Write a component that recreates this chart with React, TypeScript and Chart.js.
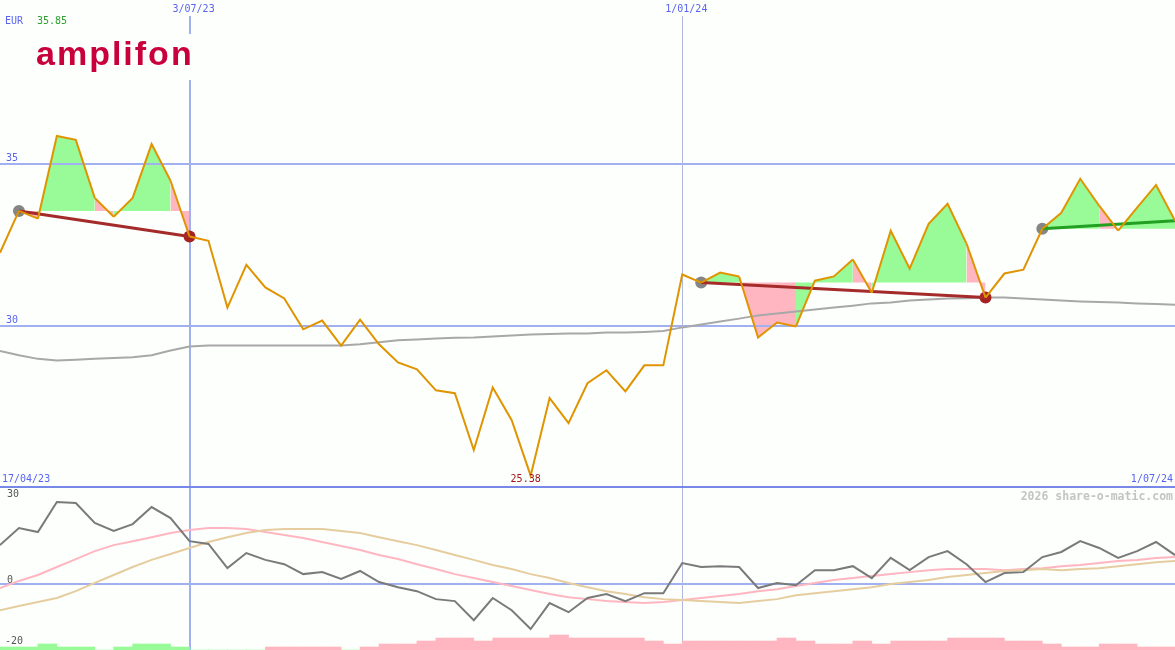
import React, { useEffect, useRef } from "react";
import { Chart, registerables } from "chart.js";

Chart.register(...registerables);

// ---------- data ----------
const price = [
  32.25, 33.54, 33.3, 35.85, 35.73, 33.94, 33.36, 33.94, 35.6, 34.47,
  32.75, 32.62, 30.56, 31.88, 31.18, 30.84, 29.89, 30.16, 29.39, 30.19,
  29.43, 28.87, 28.66, 28.01, 27.92, 26.17, 28.1, 27.09, 25.38, 27.77,
  27.0, 28.23, 28.63, 27.98, 28.78, 28.78, 31.58, 31.33, 31.64, 31.52,
  29.64, 30.1, 29.98, 31.39, 31.52, 32.04, 31.02, 32.93, 31.76, 33.14,
  33.76, 32.53, 30.87, 31.61, 31.73, 32.99, 33.48, 34.53, 33.7, 32.93,
  33.64, 34.34, 33.24,
];
const movingAvg = [
  29.22, 29.09, 28.98, 28.93, 28.95, 28.98, 29.01, 29.03, 29.09, 29.24,
  29.36, 29.39, 29.39, 29.39, 29.39, 29.39, 29.39, 29.39, 29.39, 29.43,
  29.49, 29.55, 29.58, 29.61, 29.63, 29.64, 29.67, 29.7, 29.73, 29.75,
  29.76, 29.76, 29.79, 29.79, 29.81, 29.84, 29.95, 30.04, 30.13, 30.22,
  30.32, 30.38, 30.44, 30.5, 30.56, 30.62, 30.69, 30.72, 30.78, 30.81,
  30.84, 30.85, 30.87, 30.87, 30.84, 30.81, 30.78, 30.75, 30.73, 30.72,
  30.69, 30.67, 30.65,
];
const oscMain = [
  13.7, 19.7, 18.3, 28.9, 28.5, 21.5, 18.7, 21.1, 27.1, 23.2,
  15.1, 14.1, 5.6, 10.9, 8.5, 7.0, 3.5, 4.2, 1.8, 4.6,
  0.7, -1.1, -2.5, -5.3, -6.0, -12.7, -4.9, -9.2, -15.8, -6.7,
  -9.9, -4.9, -3.5, -6.0, -3.2, -3.2, 7.4, 6.0, 6.3, 6.0,
  -1.4, 0.4, -0.4, 4.9, 4.9, 6.3, 2.1, 9.2, 4.9, 9.5,
  11.6, 7.0, 0.7, 3.9, 4.2, 9.5, 11.3, 15.1, 12.7, 9.2,
  11.6, 14.8, 10.2,
];
const oscFast = [
  -1.4, 1.1, 3.2, 6.0, 8.8, 11.6, 13.7, 15.1, 16.5, 18.0,
  19.0, 19.7, 19.7, 19.4, 18.3, 17.3, 16.2, 14.8, 13.4, 12.0,
  10.2, 8.8, 7.0, 5.3, 3.5, 2.1, 0.7, -0.7, -2.1, -3.5,
  -4.6, -5.3, -6.0, -6.3, -6.7, -6.3, -5.6, -4.9, -4.2, -3.5,
  -2.5, -1.8, -0.7, 0.4, 1.4, 2.1, 2.8, 3.5, 4.2, 4.9,
  5.3, 5.3, 5.3, 4.9, 5.3, 5.6, 6.3, 6.7, 7.4, 8.1,
  8.5, 9.2, 9.5,
];
const oscSlow = [
  -9.2, -7.7, -6.3, -4.9, -2.5, 0.4, 3.2, 6.0, 8.5, 10.6,
  12.7, 14.8, 16.5, 18.0, 19.0, 19.4, 19.4, 19.4, 18.7, 18.0,
  16.5, 15.1, 13.7, 12.0, 10.2, 8.5, 6.7, 5.3, 3.5, 2.1,
  0.4, -1.1, -2.5, -3.5, -4.6, -5.3, -5.6, -6.0, -6.3, -6.7,
  -6.0, -5.3, -3.9, -3.2, -2.5, -1.8, -1.1, 0, 0.7, 1.4,
  2.5, 3.2, 3.9, 4.6, 4.9, 5.3, 4.9, 5.3, 5.6, 6.3,
  7.0, 7.7, 8.1,
];
// histogram between weeks (signed: + green, - pink)
const histLevels = [
  1, 1, 2, 1, 1, 0, 1, 2, 2, 1,
  0, 0, 0, 0, -1, -1, -1, -1, 0, -1,
  -2, -2, -3, -4, -4, -3, -4, -4, -4, -5,
  -4, -4, -4, -4, -3, -2, -3, -3, -3, -3,
  -3, -4, -3, -2, -2, -3, -2, -3, -3, -3,
  -4, -4, -4, -3, -3, -2, -1, -1, -2, -2,
  -1, -1,
];
const trendStart = [1, 37, 55];
const trendEnd = [10, 52, 62];
const trendColors = ["#a52a2a", "#a52a2a", "#22a022"];
const trendEndDot = [true, true, false];
const zoneFills = [
  ["p", "g", "g", "g", "p", "g", "g", "g", "p"],
  ["g", "g", "p", "p", "p", "g", "g", "g", "p", "g", "g", "g", "g", "g", "p"],
  ["g", "g", "g", "p", "g", "g", "g"],
];
const priceTicks = [35, 30];
const oscTicks = [30, 0, -20];
const dateMarks = [10, 36];
const dateMarkLabels = ["3/07/23", "1/01/24"];
const rangeLabels = ["17/04/23", "1/07/24"];
const currency = "EUR";
const brand = "amplifon";
const watermark = "2026 share-o-matic.com";

// ---------- styles ----------
const W = 1175;
const TOP_H = 488;
const BOT_H = 162;
const BG = "#fcfffc";
const GREEN = "#98fb98";
const PINK = "#ffb6c1";
const GRID = "#a0b0f0";
const AXIS = "#7888e8";
const LABEL = "#5a64f0";
const MONO = "'DejaVu Sans Mono', monospace";

function fillColorAt(k: number): string {
  for (let s = 0; s < trendStart.length; s++) {
    if (k >= trendStart[s] && k < trendEnd[s]) {
      return zoneFills[s][k - trendStart[s]] === "g" ? GREEN : PINK;
    }
  }
  return "rgba(0,0,0,0)";
}

const xy = (arr: number[]) => arr.map((v, i) => ({ x: i, y: v }));

const baseline = price.map((_, i) => {
  for (let s = 0; s < trendStart.length; s++) {
    if (i >= trendStart[s] && i <= trendEnd[s]) return { x: i, y: price[trendStart[s]] };
  }
  return { x: i, y: null as any };
});

const upperDecor = {
  id: "upperDecor",
  beforeDatasetsDraw(chart: any) {
    const { ctx } = chart;
    const xs = chart.scales.x;
    const ys = chart.scales.y;
    ctx.save();
    ctx.strokeStyle = GRID;
    ctx.lineWidth = 2;
    priceTicks.forEach((v) => {
      const y = Math.round(ys.getPixelForValue(v));
      ctx.beginPath();
      ctx.moveTo(0, y);
      ctx.lineTo(W, y);
      ctx.stroke();
    });
    dateMarks.forEach((idx, j) => {
      const px = xs.getPixelForValue(idx);
      ctx.lineWidth = j === 0 ? 2 : 1;
      ctx.strokeStyle = j === 0 ? GRID : "#b0b8e0";
      const x = j === 0 ? Math.round(px) : Math.floor(px) + 0.5;
      ctx.beginPath();
      ctx.moveTo(x, 16);
      ctx.lineTo(x, TOP_H);
      ctx.stroke();
    });
    ctx.restore();
  },
  afterDraw(chart: any) {
    const { ctx } = chart;
    const xs = chart.scales.x;
    const ys = chart.scales.y;
    ctx.save();
    // bottom axis line
    ctx.fillStyle = AXIS;
    ctx.fillRect(0, TOP_H - 2, W, 2);
    ctx.font = `10px ${MONO}`;
    ctx.textBaseline = "middle";
    // tick labels
    ctx.fillStyle = LABEL;
    ctx.textAlign = "left";
    priceTicks.forEach((v) => {
      ctx.fillText(String(v), 6, ys.getPixelForValue(v) - 5);
    });
    ctx.fillText(currency, 5, 21);
    ctx.fillStyle = "#2ca02c";
    ctx.fillText(Math.max(...price).toFixed(2), 37, 21);
    // date marks
    ctx.fillStyle = LABEL;
    ctx.textAlign = "left";
    dateMarks.forEach((idx, j) => {
      ctx.fillText(dateMarkLabels[j], xs.getPixelForValue(idx) - 17, 9);
    });
    ctx.textAlign = "left";
    ctx.fillText(rangeLabels[0], 2, TOP_H - 9);
    ctx.textAlign = "right";
    ctx.fillText(rangeLabels[1], W - 2, TOP_H - 9);
    // min label
    const minV = Math.min(...price);
    const minI = price.indexOf(minV);
    ctx.textAlign = "center";
    ctx.fillStyle = "#a01818";
    ctx.fillText(minV.toFixed(2), xs.getPixelForValue(minI) - 5, TOP_H - 9);
    // logo
    ctx.fillStyle = BG;
    ctx.fillRect(30, 34, 164, 46);
    ctx.fillStyle = "#c8003c";
    ctx.font = "bold 34px 'Liberation Sans', Arial, sans-serif";
    ctx.textAlign = "left";
    ctx.textBaseline = "alphabetic";
    try { (ctx as any).letterSpacing = "2px"; } catch (e) {}
    ctx.fillText(brand, 36, 65);
    ctx.restore();
  },
};

const lowerDecor = {
  id: "lowerDecor",
  beforeDatasetsDraw(chart: any) {
    const { ctx } = chart;
    const xs = chart.scales.x;
    const ys = chart.scales.y;
    ctx.save();
    ctx.strokeStyle = GRID;
    ctx.lineWidth = 2;
    const y0 = Math.round(ys.getPixelForValue(0));
    ctx.beginPath();
    ctx.moveTo(0, y0);
    ctx.lineTo(W, y0);
    ctx.stroke();
    dateMarks.forEach((idx, j) => {
      const px = xs.getPixelForValue(idx);
      ctx.lineWidth = j === 0 ? 2 : 1;
      ctx.strokeStyle = j === 0 ? GRID : "#b0b8e0";
      const x = j === 0 ? Math.round(px) : Math.floor(px) + 0.5;
      ctx.beginPath();
      ctx.moveTo(x, 0);
      ctx.lineTo(x, BOT_H);
      ctx.stroke();
    });
    ctx.restore();
  },
  afterDraw(chart: any) {
    const { ctx } = chart;
    const ys = chart.scales.y;
    ctx.save();
    ctx.font = `10px ${MONO}`;
    ctx.textBaseline = "middle";
    ctx.textAlign = "left";
    ctx.fillStyle = "#555555";
    oscTicks.forEach((v) => {
      const off = v < 0 ? 1 : -4;
      ctx.fillText(String(v), v < 0 ? 5 : 7, ys.getPixelForValue(v) + off);
    });
    ctx.font = `bold 11.5px ${MONO}`;
    ctx.fillStyle = "#c4c4c4";
    ctx.textAlign = "right";
    ctx.fillText(watermark, W - 2, 9);
    ctx.restore();
  },
};

function upperConfig(): any {
  const datasets: any[] = [
    {
      label: "price",
      data: xy(price),
      borderColor: "#e09400",
      borderWidth: 2,
      pointRadius: 0,
      tension: 0,
      backgroundColor: "rgba(0,0,0,0)",
      fill: { target: 1 },
      segment: { backgroundColor: (c: any) => fillColorAt(c.p0DataIndex) },
      order: 0,
    },
    {
      label: "base",
      data: baseline,
      borderWidth: 0,
      borderColor: "rgba(0,0,0,0)",
      pointRadius: 0,
      fill: false,
      spanGaps: false,
      order: 6,
    },
  ];
  trendStart.forEach((s, j) => {
    const e = trendEnd[j];
    datasets.push({
      label: "trend" + j,
      data: [
        { x: s, y: price[s] },
        { x: e, y: price[e] },
      ],
      borderColor: trendColors[j],
      borderWidth: 3,
      pointRadius: 0,
      fill: false,
      order: 1,
    });
  });
  const dotData: any[] = [];
  const dotColors: string[] = [];
  trendStart.forEach((s, j) => {
    dotData.push({ x: s, y: price[s] });
    dotColors.push("#858585");
    if (trendEndDot[j]) {
      dotData.push({ x: trendEnd[j], y: price[trendEnd[j]] });
      dotColors.push("#a52222");
    }
  });
  datasets.push({
    label: "dots",
    data: dotData,
    showLine: false,
    pointRadius: 6,
    pointBorderWidth: 0,
    pointBackgroundColor: dotColors,
    pointBorderColor: dotColors,
    fill: false,
    order: 2,
  });
  datasets.push({
    label: "ma",
    data: xy(movingAvg),
    borderColor: "#a8a8a8",
    borderWidth: 2,
    pointRadius: 0,
    fill: false,
    order: 3,
  });
  return {
    type: "line",
    data: { datasets },
    options: {
      responsive: false,
      animation: false,
      events: [],
      devicePixelRatio: 1,
      layout: { padding: 0, autoPadding: false },
      scales: {
        x: { type: "linear", min: 0, max: price.length - 1, display: false },
        y: { type: "linear", min: 25, max: 40.04, display: false },
      },
      plugins: {
        legend: { display: false },
        tooltip: { enabled: false },
        filler: { drawTime: "beforeDatasetsDraw", propagate: true },
      },
    },
    plugins: [upperDecor],
  };
}

function lowerConfig(): any {
  return {
    type: "line",
    data: {
      datasets: [
        {
          label: "osc",
          data: xy(oscMain),
          borderColor: "#7a7a7a",
          borderWidth: 2,
          pointRadius: 0,
          fill: false,
          order: 0,
        },
        {
          label: "slow",
          data: xy(oscSlow),
          borderColor: "#e6cda0",
          borderWidth: 2,
          pointRadius: 0,
          fill: false,
          order: 1,
        },
        {
          label: "fast",
          data: xy(oscFast),
          borderColor: "#ffb6c1",
          borderWidth: 2,
          pointRadius: 0,
          fill: false,
          order: 2,
        },
        {
          type: "bar",
          label: "hist",
          yAxisID: "yb",
          data: histLevels.map((v, k) => ({ x: k + 0.5, y: Math.abs(v) })),
          backgroundColor: histLevels.map((v) => (v >= 0 ? GREEN : PINK)),
          borderWidth: 0,
          categoryPercentage: 1,
          barPercentage: 1,
          grouped: false,
          order: 3,
        },
      ],
    },
    options: {
      responsive: false,
      animation: false,
      events: [],
      devicePixelRatio: 1,
      layout: { padding: 0, autoPadding: false },
      scales: {
        x: { type: "linear", min: 0, max: price.length - 1, display: false, offset: false },
        y: { type: "linear", min: -23.2, max: 33.8, display: false },
        yb: { type: "linear", min: 0, max: BOT_H / 3, display: false },
      },
      plugins: {
        legend: { display: false },
        tooltip: { enabled: false },
      },
    },
    plugins: [lowerDecor],
  };
}

export default function App() {
  const topRef = useRef<HTMLCanvasElement>(null);
  const botRef = useRef<HTMLCanvasElement>(null);
  useEffect(() => {
    const top = new Chart(topRef.current as HTMLCanvasElement, upperConfig());
    const bot = new Chart(botRef.current as HTMLCanvasElement, lowerConfig());
    return () => {
      top.destroy();
      bot.destroy();
    };
  }, []);
  return (
    <div
      style={{
        position: "absolute",
        left: 0,
        top: 0,
        width: W,
        height: TOP_H + BOT_H,
        background: BG,
        overflow: "hidden",
      }}
    >
      <canvas ref={topRef} width={W} height={TOP_H} style={{ display: "block", width: W, height: TOP_H }} />
      <canvas ref={botRef} width={W} height={BOT_H} style={{ display: "block", width: W, height: BOT_H }} />
    </div>
  );
}
